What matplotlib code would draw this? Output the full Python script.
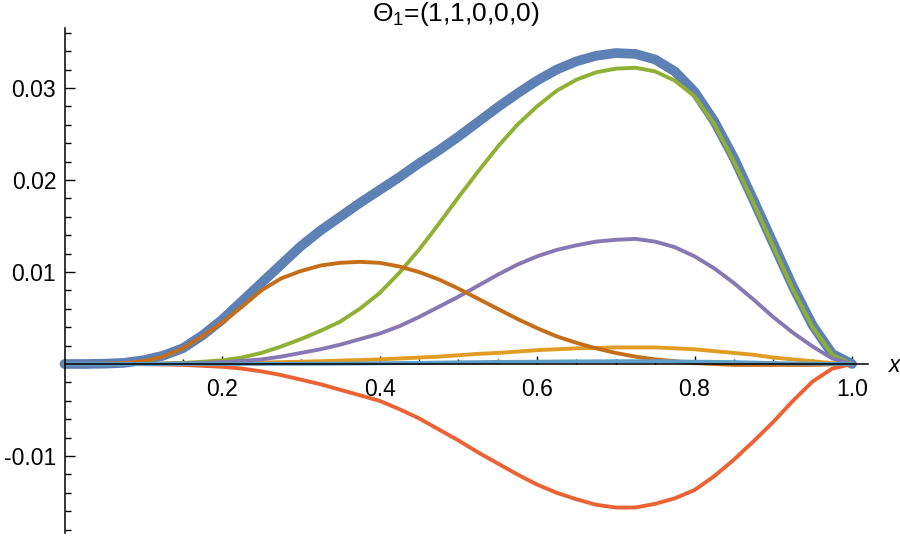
import matplotlib
matplotlib.use("Agg")
import matplotlib.pyplot as plt
from matplotlib.ticker import FixedLocator

plt.rcParams["font.family"] = ["Liberation Sans", "DejaVu Sans"]
plt.rcParams["mathtext.fontset"] = "custom"
plt.rcParams["mathtext.rm"] = "Liberation Sans"
plt.rcParams["mathtext.it"] = "Liberation Sans:italic"

# values, every 0.025 in x
x = [0.0, 0.025, 0.05, 0.075, 0.1, 0.125, 0.15, 0.175, 0.2, 0.225,
     0.25, 0.275, 0.3, 0.325, 0.35, 0.375, 0.4, 0.425, 0.45, 0.475,
     0.5, 0.525, 0.55, 0.575, 0.6, 0.625, 0.65, 0.675, 0.7, 0.725,
     0.75, 0.775, 0.8, 0.825, 0.85, 0.875, 0.9, 0.925, 0.95, 0.975, 1.0]

total = [0.0, 0.0, 0.00003, 0.00012, 0.0004, 0.0009, 0.0017, 0.0031, 0.0048, 0.0068,
         0.0088, 0.0108, 0.0128, 0.0145, 0.0160, 0.0175, 0.0189, 0.0203, 0.0218, 0.0232,
         0.0247, 0.0263, 0.0279, 0.0294, 0.0308, 0.0320, 0.0329, 0.0335, 0.0338, 0.0337,
         0.0331, 0.0318, 0.0296, 0.0264, 0.0224, 0.0178, 0.0131, 0.0084, 0.0042, 0.0011, 0.0]
yellow = [0.0, 0.0, 0.0, 0.000005, 0.00001, 0.00002, 0.00004, 0.00007, 0.0001, 0.00013,
          0.00016, 0.0002, 0.00025, 0.0003, 0.00037, 0.00043, 0.0005, 0.0006, 0.0007, 0.0008,
          0.00095, 0.0011, 0.0012, 0.00135, 0.0015, 0.0016, 0.0017, 0.00175, 0.0018, 0.0018,
          0.0018, 0.0017, 0.0016, 0.0014, 0.0012, 0.0010, 0.0007, 0.0005, 0.0003, 0.0001, 0.0]
green = [0.0, 0.0, 0.0, 0.00001, 0.00003, 0.00006, 0.00012, 0.00024, 0.0004, 0.0007,
         0.0012, 0.0019, 0.0027, 0.0036, 0.0046, 0.0060, 0.0077, 0.0099, 0.0124, 0.0152,
         0.0181, 0.0209, 0.0236, 0.0260, 0.0280, 0.0297, 0.0309, 0.0317, 0.0321, 0.0322,
         0.0318, 0.0308, 0.0291, 0.0261, 0.0220, 0.0175, 0.0128, 0.0081, 0.0040, 0.0010, 0.0]
red = [0.0, 0.0, 0.0, -0.000005, -0.00002, -0.00005, -0.0001, -0.0002, -0.0003, -0.0005,
       -0.0008, -0.0012, -0.0017, -0.0022, -0.0028, -0.0034, -0.0040, -0.0049, -0.0059, -0.0071,
       -0.0083, -0.0096, -0.0108, -0.0120, -0.0131, -0.0140, -0.0147, -0.0153, -0.0156, -0.0156,
       -0.0152, -0.0146, -0.0137, -0.0122, -0.0104, -0.0084, -0.0063, -0.0040, -0.0019, -0.0005, 0.0]
purple = [0.0, 0.0, 0.0, 0.000003, 0.00001, 0.00003, 0.00006, 0.00012, 0.0002, 0.00033,
          0.0005, 0.0008, 0.0012, 0.0016, 0.0021, 0.0027, 0.0033, 0.0041, 0.0051, 0.0062,
          0.0073, 0.0085, 0.0097, 0.0108, 0.0117, 0.0124, 0.0129, 0.0133, 0.0135, 0.0136,
          0.0133, 0.0127, 0.0117, 0.0104, 0.0088, 0.0070, 0.0051, 0.0034, 0.0019, 0.0006, 0.0]
dark_orange = [0.0, 0.0, 0.00003, 0.0001, 0.0003, 0.0008, 0.0017, 0.0030, 0.0045, 0.0062,
               0.0080, 0.0093, 0.0101, 0.0107, 0.0110, 0.0111, 0.0110, 0.0106, 0.0100, 0.0092,
               0.0082, 0.0071, 0.0060, 0.0049, 0.0039, 0.0030, 0.0023, 0.0017, 0.0012, 0.0008,
               0.0005, 0.0003, 0.0001, 0.0, -0.0001, -0.0001, -0.0001, -0.0001, -0.0001, -0.00005, 0.0]
light_blue = [0.0, 0.0, 0.0, 0.0, 0.0, 0.000005, 0.00001, 0.00001, 0.00001, 0.00001,
              0.00001, 0.00002, 0.00002, 0.00003, 0.00004, 0.00006, 0.00008, 0.0001, 0.00012, 0.00015,
              0.00018, 0.0002, 0.00022, 0.00024, 0.00025, 0.00027, 0.00028, 0.00029, 0.0003, 0.0003,
              0.0003, 0.00028, 0.00025, 0.00023, 0.0002, 0.00015, 0.0001, 0.00007, 0.00004, 0.00001, 0.0]

series = [
    (total, "#5E81B5", 7.0),
    (yellow, "#E19C24", 2.8),
    (green, "#8FB032", 2.8),
    (red, "#EB6235", 2.8),
    (purple, "#8778B3", 2.8),
    (dark_orange, "#C56E1A", 2.8),
    (light_blue, "#5D9EC7", 2.8),
]

x_major = [0.2, 0.4, 0.6, 0.8, 1.0]
x_labels = ["0.2", "0.4", "0.6", "0.8", "1.0"]
x_minor = [0.05, 0.1, 0.15, 0.25, 0.3, 0.35, 0.45, 0.5, 0.55, 0.65, 0.7, 0.75, 0.85, 0.9, 0.95]
y_major = [-0.01, 0.01, 0.02, 0.03]
y_labels = ["-0.01", "0.01", "0.02", "0.03"]
y_minor = [v / 1000 for v in range(-18, 37, 2) if v % 10 != 0]

W, H = 900, 537
fig = plt.figure(figsize=(9, 5.37), dpi=100)
ax = fig.add_axes([64.5 / W, 1 - 533 / H, 803.5 / W, (533 - 28) / H])

for ys, color, lw in series:
    ax.plot(x, ys, color=color, lw=lw, solid_capstyle="round", solid_joinstyle="round", clip_on=False)

ax.set_xlim(0, 1.0203)
ax.set_ylim(-0.01837, 0.03652)

ax.spines["left"].set_position(("data", 0))
ax.spines["bottom"].set_position(("data", 0))
ax.spines["top"].set_visible(False)
ax.spines["right"].set_visible(False)
for s in ("left", "bottom"):
    ax.spines[s].set_linewidth(1.1)
    ax.spines[s].set_zorder(5)

ax.xaxis.set_major_locator(FixedLocator(x_major))
ax.xaxis.set_minor_locator(FixedLocator(x_minor))
ax.set_xticklabels(x_labels)
ax.yaxis.set_major_locator(FixedLocator(y_major))
ax.yaxis.set_minor_locator(FixedLocator(y_minor))
ax.set_yticklabels(y_labels)

ax.tick_params(axis="x", which="major", direction="in", length=6, width=1, pad=10, labelsize=16.5)
ax.tick_params(axis="x", which="minor", direction="in", length=3.5, width=1)
ax.tick_params(axis="y", which="major", direction="in", length=7, width=1, pad=6, labelsize=16.5)
ax.tick_params(axis="y", which="minor", direction="in", length=4.5, width=1)

fig.text(895 / W, 1 - 366 / H, "x", fontsize=16.5, style="italic", ha="center", va="center")
fig.text(456 / W, 1 - 14 / H, r"$\Theta_1$=(1,1,0,0,0)", fontsize=19, ha="center", va="center")

fig.savefig("out.png", dpi=100)
